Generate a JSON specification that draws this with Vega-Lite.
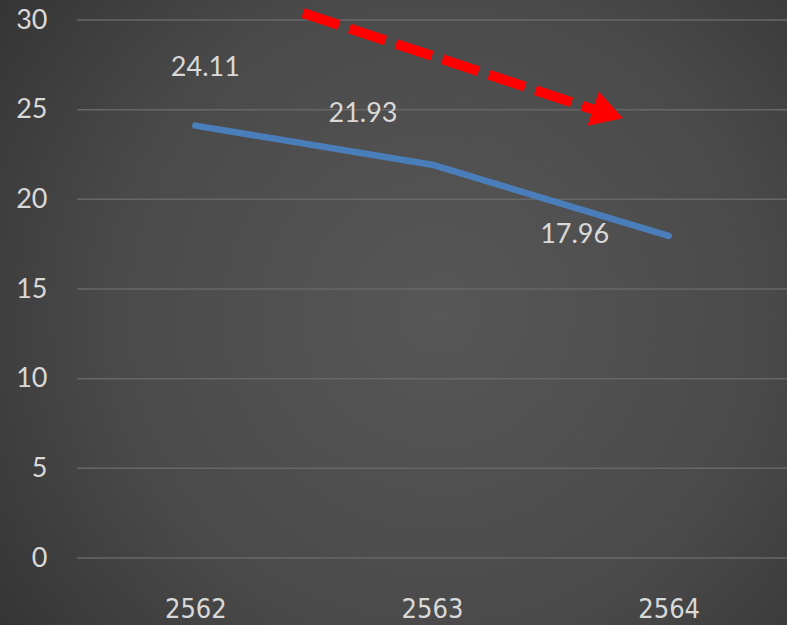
{
  "$schema": "https://vega.github.io/schema/vega-lite/v6.json",
  "width": 710,
  "height": 538,
  "autosize": "none",
  "padding": {"left": 77, "top": 20, "right": 0, "bottom": 67},
  "background": "#303030",
  "config": {"view": {"stroke": null}},
  "datasets": {
    "series": [
      {"year": 2562, "value": 24.11},
      {"year": 2563, "value": 21.93},
      {"year": 2564, "value": 17.96}
    ],
    "arrow": [
      {"year": 2562.455, "value": 30.39},
      {"year": 2563.701, "value": 24.93}
    ],
    "head": [
      {"year": 2563.744, "value": 24.79}
    ],
    "bg": [
      {"year": 2561.1, "year2": 2564.6, "value": -4, "value2": 31.2}
    ],
    "grid": [
      {"value": 0}, {"value": 5}, {"value": 10}, {"value": 15},
      {"value": 20}, {"value": 25}, {"value": 30}
    ]
  },
  "layer": [
    {
      "data": {"name": "bg"},
      "mark": {
        "type": "rect",
        "color": {
          "gradient": "radial",
          "x1": 0.55, "y1": 0.5, "r1": 0,
          "x2": 0.55, "y2": 0.5, "r2": 0.78,
          "stops": [
            {"offset": 0, "color": "#575757"},
            {"offset": 0.5, "color": "#4a4a4a"},
            {"offset": 1, "color": "#2a2a2a"}
          ]
        }
      },
      "encoding": {
        "x": {"field": "year", "type": "quantitative", "scale": {"domain": [2561.5, 2564.5], "nice": false, "zero": false}},
        "x2": {"field": "year2"},
        "y": {"field": "value", "type": "quantitative", "scale": {"domain": [0, 30], "nice": false}},
        "y2": {"field": "value2"}
      }
    },
    {
      "data": {"name": "grid"},
      "mark": {"type": "rule", "color": "#676767", "strokeWidth": 1.5},
      "encoding": {
        "y": {"field": "value", "type": "quantitative"}
      }
    },
    {
      "encoding": {
        "x": {
          "field": "year", "type": "quantitative",
          "axis": {
            "values": [2562, 2563, 2564], "format": "d", "title": null,
            "grid": false, "domain": false, "ticks": false, "zindex": 1,
            "labelFont": "DejaVu Sans Condensed", "labelFontSize": 27,
            "labelColor": "#d9d9d9", "labelPadding": 38
          }
        },
        "y": {
          "field": "value", "type": "quantitative",
          "axis": {
            "values": [0, 5, 10, 15, 20, 25, 30], "title": null,
            "domain": false, "ticks": false, "grid": false, "zindex": 1,
            "labelFont": "Lato", "labelFontSize": 27,
            "labelColor": "#d9d9d9", "labelPadding": 30
          }
        }
      },
      "layer": [
        {
          "data": {"name": "series"},
          "mark": {"type": "line", "color": "#4a7ebb", "strokeWidth": 6.5, "strokeCap": "round", "strokeJoin": "round"}
        },
        {
          "data": {"name": "series"},
          "transform": [{"filter": "datum.year == 2562"}],
          "mark": {"type": "text", "font": "Lato", "fontSize": 27, "color": "#d9d9d9", "dx": 10, "dy": -58, "baseline": "middle"},
          "encoding": {
            "text": {"field": "value", "type": "quantitative", "format": ".2f"}
          }
        },
        {
          "data": {"name": "series"},
          "transform": [{"filter": "datum.year == 2563"}],
          "mark": {"type": "text", "font": "Lato", "fontSize": 27, "color": "#d9d9d9", "dx": -69, "dy": -51, "baseline": "middle"},
          "encoding": {
            "text": {"field": "value", "type": "quantitative", "format": ".2f"}
          }
        },
        {
          "data": {"name": "series"},
          "transform": [{"filter": "datum.year == 2564"}],
          "mark": {"type": "text", "font": "Lato", "fontSize": 27, "color": "#d9d9d9", "dx": -94, "dy": -1, "baseline": "middle"},
          "encoding": {
            "text": {"field": "value", "type": "quantitative", "format": ".2f"}
          }
        },
        {
          "data": {"name": "arrow"},
          "mark": {"type": "line", "color": "#ff0000", "strokeWidth": 10, "strokeDash": [38, 11], "strokeCap": "butt"}
        },
        {
          "data": {"name": "head"},
          "mark": {"type": "point", "shape": "triangle-right", "size": 1300, "angle": 18, "filled": true, "color": "#ff0000", "opacity": 1}
        }
      ]
    }
  ]
}
